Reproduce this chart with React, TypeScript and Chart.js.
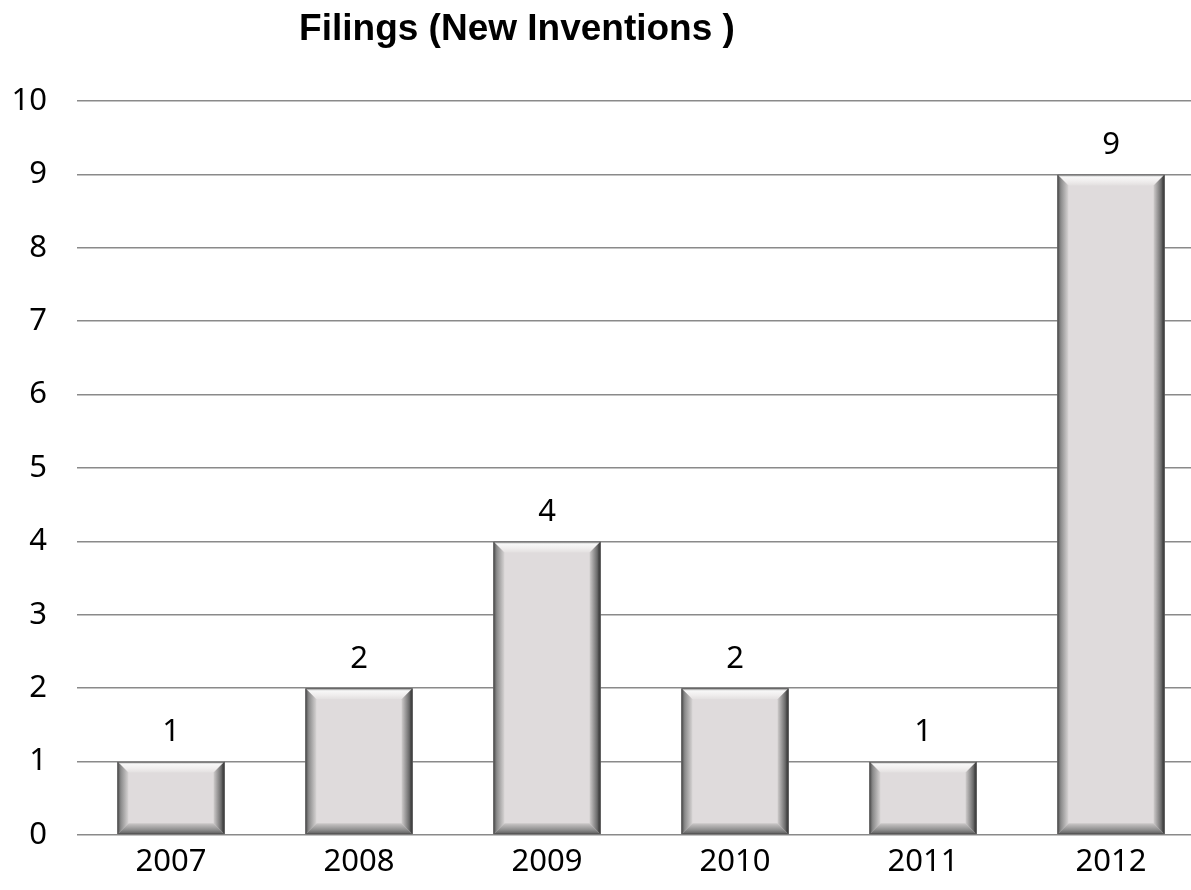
import React, { useEffect, useRef } from "react";
import { Chart, registerables } from "chart.js";

Chart.register(...registerables);

const categories: string[] = ["2007", "2008", "2009", "2010", "2011", "2012"];
const filings: number[] = [1, 2, 4, 2, 1, 9];
const chartTitle = "Filings (New Inventions )";
const yMin = 0;
const yMax = 10;
const yStep = 1;

const FONT = "'Noto Sans', 'Open Sans', sans-serif";
const FONT_SIZE = 31;

const titlePlugin = {
  id: "customTitle",
  afterDraw(chart: any) {
    const ctx = chart.ctx;
    ctx.save();
    ctx.font = "bold 37px 'Liberation Sans', Arial, sans-serif";
    ctx.fillStyle = "#000";
    ctx.textAlign = "center";
    ctx.textBaseline = "alphabetic";
    ctx.fillText(chartTitle, 517, 40);
    ctx.restore();
  },
};

const bevelPlugin = {
  id: "bevelBars",
  afterDatasetsDraw(chart: any) {
    const ctx = chart.ctx;
    const meta = chart.getDatasetMeta(0);
    meta.data.forEach((bar: any, i: number) => {
      const p = bar.getProps(["x", "y", "base", "width"], true);
      const x0 = p.x - p.width / 2;
      const x1 = p.x + p.width / 2;
      const y0 = Math.min(p.y, p.base);
      const y1 = Math.max(p.y, p.base);
      const b = Math.min(11, (y1 - y0) / 2, (x1 - x0) / 2);
      ctx.save();
      ctx.fillStyle = "#dfdbdc";
      ctx.fillRect(x0, y0, x1 - x0, y1 - y0);
      let g = ctx.createLinearGradient(0, y0, 0, y0 + b);
      g.addColorStop(0, "#a8a8a8");
      g.addColorStop(0.25, "#f7f7f7");
      g.addColorStop(0.6, "#f0eeee");
      g.addColorStop(1, "#e3e0e0");
      ctx.fillStyle = g;
      ctx.beginPath();
      ctx.moveTo(x0, y0);
      ctx.lineTo(x1, y0);
      ctx.lineTo(x1 - b, y0 + b);
      ctx.lineTo(x0 + b, y0 + b);
      ctx.closePath();
      ctx.fill();
      g = ctx.createLinearGradient(0, y1, 0, y1 - b);
      g.addColorStop(0, "#5a5a5a");
      g.addColorStop(0.4, "#8e8e8e");
      g.addColorStop(1, "#cbc8c8");
      ctx.fillStyle = g;
      ctx.beginPath();
      ctx.moveTo(x0, y1);
      ctx.lineTo(x1, y1);
      ctx.lineTo(x1 - b, y1 - b);
      ctx.lineTo(x0 + b, y1 - b);
      ctx.closePath();
      ctx.fill();
      g = ctx.createLinearGradient(x0, 0, x0 + b, 0);
      g.addColorStop(0, "#4a4a4a");
      g.addColorStop(0.3, "#8a8a8a");
      g.addColorStop(1, "#d6d3d3");
      ctx.fillStyle = g;
      ctx.beginPath();
      ctx.moveTo(x0, y0);
      ctx.lineTo(x0 + b, y0 + b);
      ctx.lineTo(x0 + b, y1 - b);
      ctx.lineTo(x0, y1);
      ctx.closePath();
      ctx.fill();
      g = ctx.createLinearGradient(x1, 0, x1 - b, 0);
      g.addColorStop(0, "#1e1e1e");
      g.addColorStop(0.3, "#6a6a6a");
      g.addColorStop(1, "#cfcccc");
      ctx.fillStyle = g;
      ctx.beginPath();
      ctx.moveTo(x1, y0);
      ctx.lineTo(x1 - b, y0 + b);
      ctx.lineTo(x1 - b, y1 - b);
      ctx.lineTo(x1, y1);
      ctx.closePath();
      ctx.fill();
      ctx.strokeStyle = "#555";
      ctx.lineWidth = 1;
      ctx.strokeRect(x0 + 0.5, y0 + 0.5, x1 - x0 - 1, y1 - y0 - 1);
      ctx.restore();

      ctx.save();
      ctx.font = `${FONT_SIZE}px ${FONT}`;
      ctx.fillStyle = "#000";
      ctx.textAlign = "center";
      ctx.textBaseline = "middle";
      ctx.fillText(String(filings[i]), p.x, y0 - 29);
      ctx.restore();
    });
  },
};

export default function App() {
  const ref = useRef<HTMLCanvasElement | null>(null);

  useEffect(() => {
    if (!ref.current) return;
    const chart = new Chart(ref.current, {
      type: "bar",
      data: {
        labels: categories,
        datasets: [
          {
            label: "Filings",
            data: filings,
            backgroundColor: "rgba(0,0,0,0)",
            borderWidth: 0,
            categoryPercentage: 1,
            barPercentage: 0.57,
          },
        ],
      },
      options: {
        responsive: false,
        animation: false,
        devicePixelRatio: 1,
        layout: { padding: { top: 101, right: 1, left: 0, bottom: 0 } },
        plugins: {
          legend: { display: false },
          title: { display: false },
          tooltip: { enabled: false },
        },
        scales: {
          x: {
            grid: { display: false, drawTicks: false },
            border: { display: false },
            ticks: {
              padding: 9,
              color: "#000",
              font: { family: FONT, size: FONT_SIZE },
            },
            afterFit(scale: any) {
              scale.height = 55;
            },
          },
          y: {
            min: yMin,
            max: yMax,
            grid: { color: "#8a8a8a", lineWidth: 1.5, drawTicks: false },
            border: { display: false },
            ticks: {
              stepSize: yStep,
              padding: 30,
              color: "#000",
              font: { family: FONT, size: FONT_SIZE },
            },
            afterFit(scale: any) {
              scale.width = 77;
            },
          },
        },
      },
      plugins: [titlePlugin, bevelPlugin],
    });
    return () => chart.destroy();
  }, []);

  return (
    <div
      style={{
        position: "absolute",
        left: 0,
        top: 0,
        width: 1191,
        height: 890,
        overflow: "hidden",
        background: "#fff",
      }}
    >
      <canvas ref={ref} width={1206} height={890} style={{ display: "block" }} />
    </div>
  );
}
